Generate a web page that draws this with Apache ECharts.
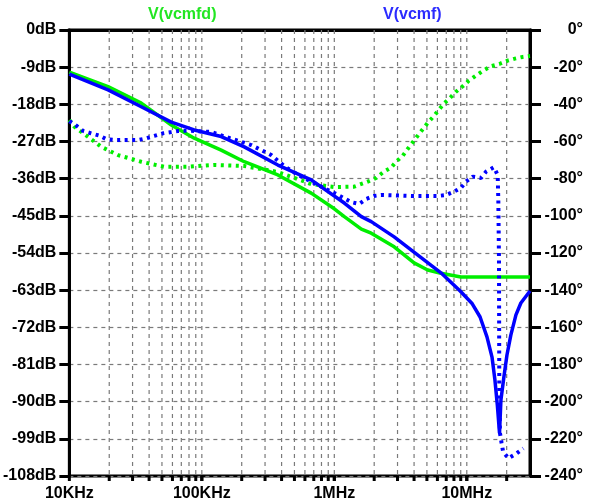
<!DOCTYPE html>
<html>
<head>
<meta charset="utf-8">
<script src="https://cdn.jsdelivr.net/npm/echarts@6/dist/echarts.min.js"></script>
<style>
html,body{margin:0;padding:0;background:#fff;}
#chart{width:593px;height:504px;}
</style>
</head>
<body>
<div id="chart"></div>
<script>
// ---- tick labels ----
const xTickValues = [1e4, 1e5, 1e6, 1e7];
const xTickLabels = ['10KHz', '100KHz', '1MHz', '10MHz'];
const gridFreqs = [
  2e4,3e4,4e4,5e4,6e4,7e4,8e4,9e4,1e5,
  2e5,3e5,4e5,5e5,6e5,7e5,8e5,9e5,1e6,
  2e6,3e6,4e6,5e6,6e6,7e6,8e6,9e6,1e7,
  2e7
];
const seriesNames = ['V(vcmfd)', 'V(vcmf)'];

// ---- V(vcmfd) magnitude (dB) ----
const vcmfdMagFreq = [1e4, 19.6e3, 34.9e3, 58.8e3, 87.6e3, 140e3, 209e3, 375e3, 669e3, 1.0e6, 1.19e6, 1.6e6, 1.9e6, 2.83e6, 4.0e6, 5.07e6, 6.38e6, 9.03e6, 18.1e6, 30e6];
const vcmfdMagDb   = [-10.2, -13.7, -17.7, -23.0, -26.2, -29.1, -31.9, -35.1, -39.5, -43.3, -45.2, -48.2, -49.2, -52.5, -56.4, -58.1, -58.9, -59.8, -59.8, -59.8];

// ---- V(vcmf) magnitude (dB) ----
const vcmfMagFreq = [1e4, 19.6e3, 34.9e3, 58.8e3, 87.6e3, 140e3, 209e3, 375e3, 669e3, 1.19e6, 1.6e6, 1.9e6, 2.83e6, 6.38e6, 8.91e6, 11.0e6, 12.6e6, 14.2e6, 15.5e6, 16.3e6, 17.0e6, 17.66e6, 18.1e6, 19.1e6, 20.1e6, 21.5e6, 23.5e6, 25.6e6, 30e6];
const vcmfMagDb   = [-10.7, -14.5, -18.6, -22.3, -24.2, -25.8, -28.3, -32.7, -36.3, -41.9, -45.2, -46.4, -50.1, -58.8, -63.2, -66.3, -69.5, -74.3, -79.2, -84.7, -90.8, -97.6, -89.6, -83.8, -78.7, -73.9, -69.0, -66.1, -63.2];

// ---- V(vcmfd) phase (deg) ----
const vcmfdPhFreq = [1e4, 10.9e3, 13.8e3, 17.4e3, 23.3e3, 34.9e3, 52.0e3, 78.5e3, 124e3, 209e3, 375e3, 669e3, 1.0e6, 1.41e6, 1.79e6, 2.07e6, 2.37e6, 2.68e6, 2.92e6, 3.29e6, 3.58e6, 3.91e6, 4.26e6, 4.65e6, 5.07e6, 5.63e6, 6.14e6, 6.77e6, 7.51e6, 8.29e6, 9.31e6, 10.3e6, 11.7e6, 13.4e6, 15.2e6, 17.6e6, 20.3e6, 23.1e6, 26.4e6, 30e6];
const vcmfdPhDeg  = [-48.4, -52.0, -57.4, -62.8, -67.3, -70.9, -73.6, -73.6, -72.6, -73.2, -76.4, -82.9, -84.5, -84.3, -81.6, -79.6, -76.2, -74.1, -71.0, -67.6, -64.0, -60.4, -56.9, -53.4, -50.0, -46.4, -43.0, -39.3, -36.4, -33.2, -30.3, -27.4, -24.6, -21.7, -19.5, -18.3, -16.5, -15.4, -14.5, -14.0];

// ---- V(vcmf) phase (deg) ----
const vcmfPhFreq = [1e4, 11.3e3, 12.7e3, 14.6e3, 16.9e3, 19.0e3, 21.8e3, 33.1e3, 38.1e3, 43.8e3, 50.9e3, 58.8e3, 66.1e3, 83.2e3, 118e3, 153e3, 236e3, 334e3, 418e3, 533e3, 669e3, 897e3, 1.07e6, 1.34e6, 1.54e6, 1.74e6, 2.0e6, 2.25e6, 3.8e6, 6.07e6, 6.97e6, 8.0e6, 9.03e6, 9.86e6, 11.1e6, 12.8e6, 14.0e6, 16.0e6, 17.1e6, 17.3e6, 17.5e6, 17.55e6, 17.6e6, 17.8e6, 18.3e6, 18.8e6, 20.6e6, 23.8e6, 26.7e6];
const vcmfPhDeg  = [-49.0, -51.5, -54.3, -55.6, -56.9, -58.7, -59.2, -59.2, -58.3, -57.0, -55.6, -54.9, -54.3, -54.2, -54.9, -57.6, -61.9, -67.3, -73.2, -78.0, -81.6, -86.1, -88.8, -92.6, -93.6, -90.9, -89.3, -88.8, -89.3, -89.3, -88.8, -87.0, -85.0, -81.6, -78.9, -79.6, -76.2, -73.9, -78.0, -91.5, -123.8, -161, -199, -216.9, -222.2, -226.9, -230.5, -227.8, -225.1];

const zip = (a, b) => a.map((v, i) => [v, b[i]]);

const GREEN = '#00ee00';
const BLUE = '#0000ff';
const FONT = 'Arial, "Liberation Sans", sans-serif';
const labelStyle = {color: '#000', fontSize: 16, fontWeight: 'bold', fontFamily: FONT};

const chart = echarts.init(document.getElementById('chart'), null, {renderer: 'canvas'});
chart.setOption({
  animation: false,
  backgroundColor: '#fff',
  grid: {left: 68, right: 63, top: 30, bottom: 28, show: true, borderColor: '#000', borderWidth: 3, backgroundColor: 'transparent'},
  graphic: [
    {type: 'text', left: 148, top: 7, style: {text: seriesNames[0], fill: '#22e622', font: 'bold 16px ' + FONT}},
    {type: 'text', left: 383, top: 7, style: {text: seriesNames[1], fill: '#2b2bff', font: 'bold 16px ' + FONT}}
  ],
  xAxis: {
    type: 'log', logBase: 10, min: 1e4, max: 3e7,
    axisLine: {show: true, lineStyle: {color: '#000', width: 3}},
    axisTick: {show: false},
    splitLine: {show: false},
    axisLabel: Object.assign({}, labelStyle, {
      margin: 10, showMaxLabel: false,
      formatter: function (v) {
        for (let i = 0; i < xTickValues.length; i++) {
          if (Math.abs(v / xTickValues[i] - 1) < 1e-6) return xTickLabels[i];
        }
        return '';
      }
    })
  },
  yAxis: [
    {
      type: 'value', min: -108, max: 0, interval: 9, position: 'left',
      axisLine: {show: true, lineStyle: {color: '#000', width: 3}},
      axisTick: {show: true, length: 10, lineStyle: {color: '#000', width: 3}},
      splitLine: {show: true, lineStyle: {color: '#7a7a7a', width: 1.2, type: [4, 4]}},
      axisLabel: Object.assign({}, labelStyle, {margin: 13, formatter: v => v + 'dB'})
    },
    {
      type: 'value', min: -240, max: 0, interval: 20, position: 'right',
      axisLine: {show: true, lineStyle: {color: '#000', width: 3}},
      axisTick: {show: true, length: 11, lineStyle: {color: '#000', width: 3}},
      splitLine: {show: false},
      axisLabel: Object.assign({}, labelStyle, {margin: 53, align: 'right', formatter: v => v + '°'})
    }
  ],
  series: [
    {
      type: 'custom', name: 'grid', clip: false, z: 1, silent: true,
      data: gridFreqs.map(f => [f, 0]),
      renderItem: function (params, api) {
        const f = api.value(0);
        const top = api.coord([f, 0]);
        const bot = api.coord([f, -108]);
        return {
          type: 'group', children: [
            {type: 'line', shape: {x1: top[0], y1: top[1], x2: bot[0], y2: bot[1]}, style: {stroke: '#7a7a7a', lineWidth: 1.2, lineDash: [4, 4]}},
            {type: 'line', shape: {x1: bot[0], y1: bot[1], x2: bot[0], y2: bot[1] + 5}, style: {stroke: '#000', lineWidth: 3}}
          ]
        };
      }
    },
    {
      type: 'custom', name: 'decadeTicks', clip: false, z: 1, silent: true,
      data: xTickValues.map(f => [f, 0]),
      renderItem: function (params, api) {
        const bot = api.coord([api.value(0), -108]);
        return {type: 'line', shape: {x1: bot[0], y1: bot[1], x2: bot[0], y2: bot[1] + 5}, style: {stroke: '#000', lineWidth: 3}};
      }
    },
    {
      name: seriesNames[0] + ' mag', type: 'line', yAxisIndex: 0, showSymbol: false, z: 3,
      data: zip(vcmfdMagFreq, vcmfdMagDb),
      lineStyle: {color: GREEN, width: 3.5}
    },
    {
      name: seriesNames[0] + ' phase', type: 'line', yAxisIndex: 1, showSymbol: false, z: 3,
      data: zip(vcmfdPhFreq, vcmfdPhDeg),
      lineStyle: {color: GREEN, width: 4, type: [3, 4.5], cap: 'butt'}
    },
    {
      name: seriesNames[1] + ' mag', type: 'line', yAxisIndex: 0, showSymbol: false, z: 4,
      data: zip(vcmfMagFreq, vcmfMagDb),
      lineStyle: {color: BLUE, width: 3.5}
    },
    {
      name: seriesNames[1] + ' phase', type: 'line', yAxisIndex: 1, showSymbol: false, z: 4,
      data: zip(vcmfPhFreq, vcmfPhDeg),
      lineStyle: {color: BLUE, width: 4, type: [3, 4.5], cap: 'butt'}
    }
  ]
});
</script>
</body>
</html>
